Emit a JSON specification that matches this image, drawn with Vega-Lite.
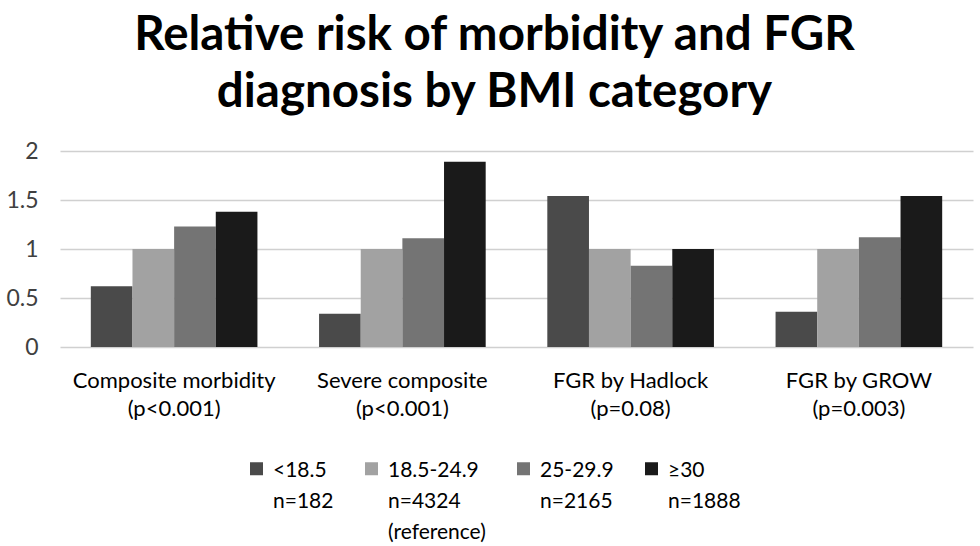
{
  "$schema": "https://vega.github.io/schema/vega-lite/v6.json",
  "width": 913,
  "height": 196,
  "autosize": {"type": "none"},
  "padding": {"left": 60, "top": 151, "right": 7, "bottom": 199},
  "background": "white",
  "title": {
    "text": ["Relative risk of morbidity and FGR", "diagnosis by BMI category"],
    "fontSize": 47.5,
    "lineHeight": 57,
    "font": "Lato",
    "fontWeight": "bold",
    "color": "#000000",
    "anchor": "middle",
    "frame": "group",
    "dx": -22,
    "offset": 24
  },
  "data": {
    "values": [
      {"group": "Composite morbidity|(p<0.001)", "bmi": "<18.5|n=182|", "rr": 0.62},
      {"group": "Composite morbidity|(p<0.001)", "bmi": "18.5-24.9|n=4324|(reference)", "rr": 1.0},
      {"group": "Composite morbidity|(p<0.001)", "bmi": "25-29.9|n=2165|", "rr": 1.23},
      {"group": "Composite morbidity|(p<0.001)", "bmi": "≥30|n=1888|", "rr": 1.38},
      {"group": "Severe composite|(p<0.001)", "bmi": "<18.5|n=182|", "rr": 0.34},
      {"group": "Severe composite|(p<0.001)", "bmi": "18.5-24.9|n=4324|(reference)", "rr": 1.0},
      {"group": "Severe composite|(p<0.001)", "bmi": "25-29.9|n=2165|", "rr": 1.11},
      {"group": "Severe composite|(p<0.001)", "bmi": "≥30|n=1888|", "rr": 1.89},
      {"group": "FGR by Hadlock|(p=0.08)", "bmi": "<18.5|n=182|", "rr": 1.54},
      {"group": "FGR by Hadlock|(p=0.08)", "bmi": "18.5-24.9|n=4324|(reference)", "rr": 1.0},
      {"group": "FGR by Hadlock|(p=0.08)", "bmi": "25-29.9|n=2165|", "rr": 0.83},
      {"group": "FGR by Hadlock|(p=0.08)", "bmi": "≥30|n=1888|", "rr": 1.0},
      {"group": "FGR by GROW|(p=0.003)", "bmi": "<18.5|n=182|", "rr": 0.36},
      {"group": "FGR by GROW|(p=0.003)", "bmi": "18.5-24.9|n=4324|(reference)", "rr": 1.0},
      {"group": "FGR by GROW|(p=0.003)", "bmi": "25-29.9|n=2165|", "rr": 1.12},
      {"group": "FGR by GROW|(p=0.003)", "bmi": "≥30|n=1888|", "rr": 1.54}
    ]
  },
  "mark": {"type": "bar"},
  "encoding": {
    "x": {
      "field": "group",
      "type": "nominal",
      "sort": null,
      "title": null,
      "scale": {"paddingInner": 0.27, "paddingOuter": 0.135},
      "axis": {
        "labelExpr": "split(datum.label, '|')",
        "labelAngle": 0,
        "labelFont": "Lato",
        "labelFontSize": 22,
        "labelLineHeight": 28,
        "labelColor": "#000000",
        "labelPadding": 23,
        "labelBaseline": "top",
        "labelLimit": 400,
        "domain": false,
        "ticks": false
      }
    },
    "xOffset": {"field": "bmi", "type": "nominal", "sort": null, "scale": {"paddingInner": 0, "paddingOuter": 0}},
    "y": {
      "field": "rr",
      "type": "quantitative",
      "title": null,
      "scale": {"domain": [0, 2]},
      "axis": {
        "values": [0, 0.5, 1, 1.5, 2],
        "format": ".1~f",
        "labelFont": "Lato",
        "labelFontSize": 23,
        "labelColor": "#404040",
        "labelPadding": 22,
        "domain": false,
        "ticks": false,
        "grid": true,
        "gridColor": "#d0d0d0",
        "gridWidth": 1.5
      }
    },
    "color": {
      "field": "bmi",
      "type": "nominal",
      "sort": null,
      "scale": {
        "domain": ["<18.5|n=182|", "18.5-24.9|n=4324|(reference)", "25-29.9|n=2165|", "≥30|n=1888|"],
        "range": ["#4a4a4a", "#a2a2a2", "#747474", "#1a1a1a"]
      },
      "legend": {
        "title": null,
        "orient": "none",
        "legendX": 186,
        "legendY": 307,
        "direction": "horizontal",
        "columns": 4,
        "labelExpr": "split(datum.label, '|')",
        "labelFont": "Lato",
        "labelFontSize": 21,
        "labelColor": "#000000",
        "labelBaseline": "top",
        "labelLimit": 300,
        "symbolType": "square",
        "symbolSize": 169,
        "symbolStrokeWidth": 0,
        "columnPadding": 27,
        "labelOffset": 6,
        "encode": {"labels": {"update": {"dy": {"value": -9}}}}
      }
    }
  },
  "config": {"view": {"stroke": null}, "style": {"guide-label": {"lineHeight": 31}}}
}
